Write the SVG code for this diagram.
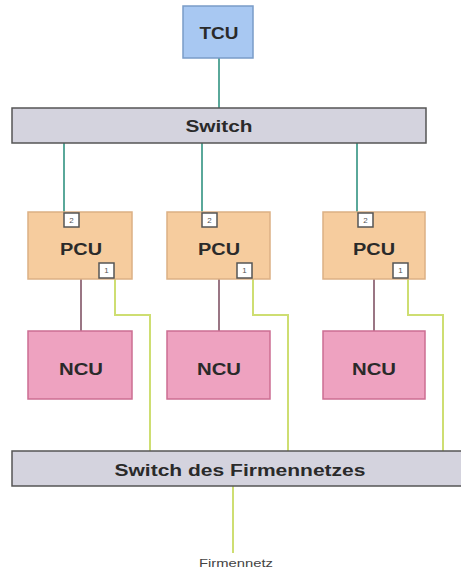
<svg xmlns="http://www.w3.org/2000/svg" width="461" height="573" viewBox="0 0 461 573">
<style>
.lbl{font-family:"Liberation Sans",Arial,sans-serif;font-weight:bold;font-size:16px;fill:#2a2a2a;text-anchor:middle}
.port{fill:#ffffff;stroke:#555555;stroke-width:1.5}
.ptxt{font-family:"Liberation Sans",Arial,sans-serif;font-size:8px;fill:#555;text-anchor:middle}
.tcu{fill:#a8c8f2;stroke:#7a9cc8;stroke-width:1.5}
.sw{fill:#d4d3de;stroke:#555555;stroke-width:1.5}
.pcu{fill:#f6cc9e;stroke:#dcb084;stroke-width:1.5}
.ncu{fill:#eea2c0;stroke:#cc6e92;stroke-width:1.5}
.teal{stroke:#5aa89a;stroke-width:2;fill:none}
.mauve{stroke:#9a7684;stroke-width:2;fill:none}
.green{stroke:#cede72;stroke-width:2;fill:none}
</style>
<rect width="461" height="573" fill="#ffffff"/>
<g id="connectors">
<line class="teal" x1="219" y1="58" x2="219" y2="108"/>
<line class="teal" x1="64" y1="143" x2="64" y2="213"/>
<line class="teal" x1="202" y1="143" x2="202" y2="213"/>
<line class="teal" x1="357" y1="143" x2="357" y2="213"/>
<line class="mauve" x1="81" y1="279" x2="81" y2="331"/>
<line class="mauve" x1="219" y1="279" x2="219" y2="331"/>
<line class="mauve" x1="374" y1="279" x2="374" y2="331"/>
<polyline class="green" points="115,279 115,315 150,315 150,451"/>
<polyline class="green" points="253,279 253,315 288,315 288,451"/>
<polyline class="green" points="408,279 408,315 443,315 443,451"/>
<line class="green" x1="233" y1="486" x2="233" y2="553"/>
</g>
<g id="tcu">
<rect class="tcu" x="183" y="6" width="70" height="52"/>
<text class="lbl" x="219" y="39" textLength="39" lengthAdjust="spacingAndGlyphs">TCU</text>
</g>
<g id="switch">
<rect class="sw" x="12" y="108" width="414" height="35"/>
<text class="lbl" x="219" y="132" textLength="67" lengthAdjust="spacingAndGlyphs">Switch</text>
</g>
<g id="pcu1">
<rect class="pcu" x="28" y="212" width="104" height="67"/>
<text class="lbl" x="81" y="255" textLength="42" lengthAdjust="spacingAndGlyphs">PCU</text>
<rect class="port" x="64" y="213" width="15" height="14"/><text class="ptxt" x="71.5" y="223">2</text>
<rect class="port" x="99" y="263" width="15" height="15"/><text class="ptxt" x="106.5" y="273">1</text>
</g>
<g id="pcu2">
<rect class="pcu" x="167" y="212" width="103" height="67"/>
<text class="lbl" x="219" y="255" textLength="42" lengthAdjust="spacingAndGlyphs">PCU</text>
<rect class="port" x="202" y="213" width="15" height="14"/><text class="ptxt" x="209.5" y="223">2</text>
<rect class="port" x="237" y="263" width="15" height="15"/><text class="ptxt" x="244.5" y="273">1</text>
</g>
<g id="pcu3">
<rect class="pcu" x="323" y="212" width="102" height="67"/>
<text class="lbl" x="374" y="255" textLength="42" lengthAdjust="spacingAndGlyphs">PCU</text>
<rect class="port" x="358" y="213" width="15" height="14"/><text class="ptxt" x="365.5" y="223">2</text>
<rect class="port" x="393" y="263" width="15" height="15"/><text class="ptxt" x="400.5" y="273">1</text>
</g>
<g id="ncu1">
<rect class="ncu" x="28" y="331" width="104" height="68"/>
<text class="lbl" x="81" y="375" textLength="44" lengthAdjust="spacingAndGlyphs">NCU</text>
</g>
<g id="ncu2">
<rect class="ncu" x="167" y="331" width="103" height="68"/>
<text class="lbl" x="219" y="375" textLength="44" lengthAdjust="spacingAndGlyphs">NCU</text>
</g>
<g id="ncu3">
<rect class="ncu" x="323" y="331" width="102" height="68"/>
<text class="lbl" x="374" y="375" textLength="44" lengthAdjust="spacingAndGlyphs">NCU</text>
</g>
<g id="switch-firmennetz">
<rect class="sw" x="12" y="451" width="460" height="35"/>
<text class="lbl" x="240" y="476" textLength="251" lengthAdjust="spacingAndGlyphs">Switch des Firmennetzes</text>
</g>
<g id="firmennetz">
<text x="236" y="567" font-family="Liberation Sans, Arial, sans-serif" font-size="10" fill="#444" text-anchor="middle" textLength="74" lengthAdjust="spacingAndGlyphs">Firmennetz</text>
</g>
</svg>
